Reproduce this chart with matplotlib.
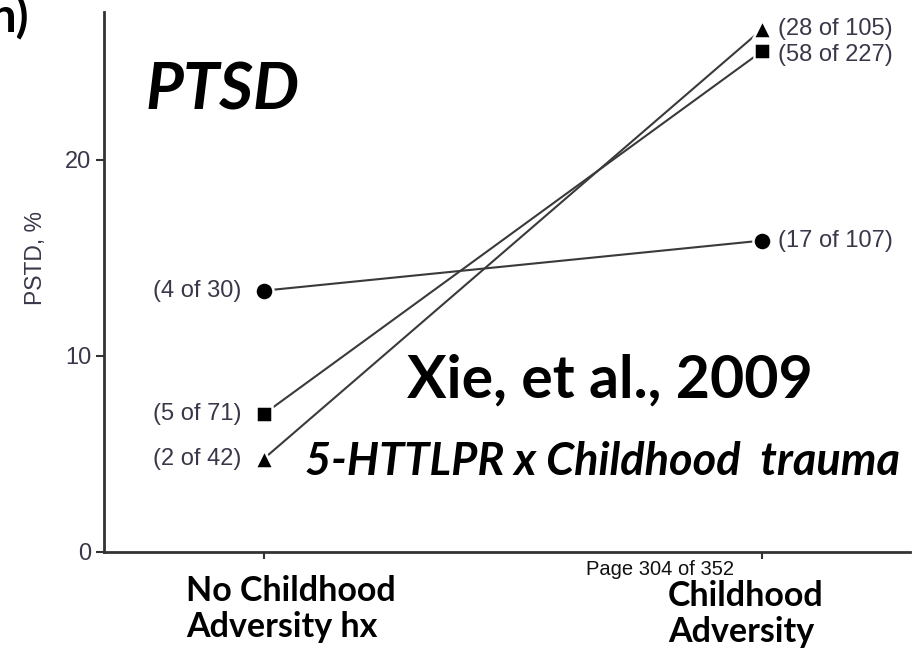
import matplotlib
matplotlib.use("Agg")
import matplotlib.pyplot as plt

# PTSD prevalence by genotype group: cases / total for each condition
groups = ["circle", "square", "triangle"]
markers = {"circle": "o", "square": "s", "triangle": "^"}
cases_no_adv = [4, 5, 2]
total_no_adv = [30, 71, 42]
cases_adv = [17, 58, 28]
total_adv = [107, 227, 105]
conditions = ["No Childhood\nAdversity hx", "Childhood\nAdversity"]

txt_col = "#38384a"
line_col = "#3a3a3a"

fig = plt.figure(figsize=(9.15, 6.53), dpi=100)
ax = fig.add_axes([0.1137, 0.1547, 0.8808, 0.8269])

for i, g in enumerate(groups):
    y0 = 100.0 * cases_no_adv[i] / total_no_adv[i]
    y1 = 100.0 * cases_adv[i] / total_adv[i]
    ax.plot([0, 1], [y0, y1], color=line_col, lw=1.5, zorder=2)
    ax.plot([0, 1], [y0, y1], ls="none", marker=markers[g], ms=13 if g != "square" else 12,
            color="black", mec="white", mew=1.8, zorder=3)
    ax.text(-0.045, y0, "(%d of %d)" % (cases_no_adv[i], total_no_adv[i]), ha="right", va="center",
            fontsize=17, color=txt_col, family="Liberation Sans")
    dy = 0.0 if g != "square" else -0.2
    ax.text(1.032, y1 + dy, "(%d of %d)" % (cases_adv[i], total_adv[i]), ha="left", va="center",
            fontsize=17, color=txt_col, family="Liberation Sans")

ax.set_xlim(-0.321, 1.297)
ax.set_ylim(0, 27.55)
ax.set_xticks([0, 1])
ax.set_xticklabels([])
ax.set_yticks([0, 10, 20])
ax.tick_params(axis="y", labelsize=17, labelcolor=txt_col, length=6, width=1.5, color="#333333", pad=3)
ax.tick_params(axis="x", length=5, width=1.5, color="#333333")
for lab in ax.get_yticklabels():
    lab.set_family("Liberation Sans")
for s in ["top", "right"]:
    ax.spines[s].set_visible(False)
for s in ["left", "bottom"]:
    ax.spines[s].set_linewidth(2)
    ax.spines[s].set_color("#333333")

fig.text(0.039, 0.605, "PSTD, %", rotation=90, ha="center", va="center", fontsize=16.5,
         color=txt_col, family="Liberation Sans")

# slide overlay text
fig.text(0.159, 0.833, "PTSD", fontsize=47, fontweight="bold", fontstyle="italic", family="Lato")
fig.text(0.445, 0.392, "Xie, et al., 2009", fontsize=42.5, fontweight="bold", family="Lato")
fig.text(0.333, 0.272, "5-HTTLPR x Childhood  trauma", fontsize=32.5, fontweight="bold",
         fontstyle="italic", family="Lato",
         bbox=dict(facecolor="white", edgecolor="none", pad=3))
fig.text(-0.012, 0.95, "h)", fontsize=34, fontweight="bold", family="Lato")

fig.text(0.2033, 0.120, conditions[0], ha="left", va="top", fontsize=24.5, fontweight="bold",
         family="Lato", linespacing=1.15)
fig.text(0.730, 0.112, conditions[1], ha="left", va="top", fontsize=24.5, fontweight="bold",
         family="Lato", linespacing=1.15)
fig.text(0.640, 0.120, "Page 304 of 352", fontsize=14.5, family="Liberation Sans", color="#111111")

fig.savefig("out.png", dpi=100)
